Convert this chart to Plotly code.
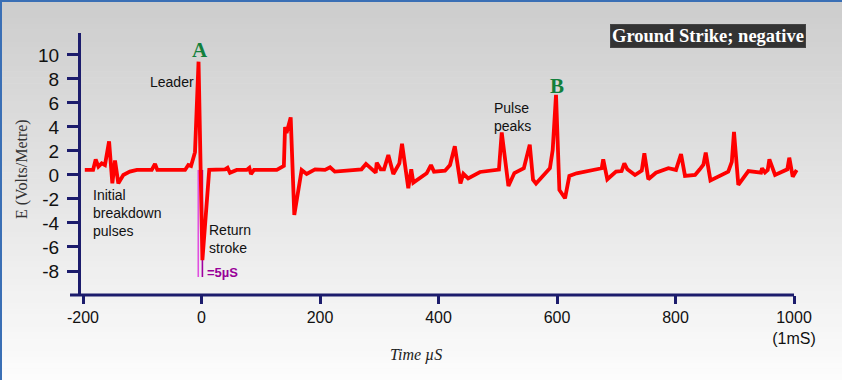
import plotly.graph_objects as go

# ---- data ----
time_us = [-197, -183, -178.6, -174, -168.5, -163, -156, -150.5, -146, -140.4, -132, -121, -109,
           -84, -78.5, -74.6, -27.8, -22.3, -17.7, -11, -5, 1.5, 13, 39.7, 44, 48, 59.4, 76.3,
           80.7, 83.5, 88.6, 127, 139, 141, 143.5, 150.5, 156.6, 169, 177.5, 191.6, 208.4,
           217, 225, 270, 277.6, 294, 295.7, 302.4, 308, 315.3, 323.7, 333.9, 338.4, 349, 354,
           357.5, 380, 387.3, 392.4, 411, 419.4, 427.5, 437, 442, 450, 470, 502, 506.7, 518,
           528, 544, 554, 559.5, 564.6, 588, 592.7, 598.3, 604, 613.5, 620.8, 633, 638.8,
           675.4, 678, 684.9, 699.6, 709, 713.6, 718.7, 731.6, 743, 747.4, 754.1, 767, 788,
           800.8, 809.3, 816, 833, 841, 847, 851, 859, 889, 895, 898.7, 906, 923, 944.3,
           946, 951, 955.6, 958.4, 968, 988.7, 992, 997.8, 1004.5]
field_vm = [0.42, 0.42, 1.3, 0.7, 0.97, 0.83, 2.8, -0.7, 1.2, -0.7, 0.0, 0.28, 0.42,
            0.42, 0.92, 0.42, 0.42, 0.83, 0.75, 1.9, 9.44, -7.1, 0.42, 0.47, 0.6, 0.19, 0.42, 0.42,
            0.6, 0.08, 0.42, 0.42, 0.75, 4.0, 3.5, 4.8, -3.33, 0.42, 0.08, 0.47, 0.42,
            0.64, 0.28, 0.47, 0.92, 0.19, 1.03, 0.47, 0.47, 1.67, 0.08, 0.97, 2.6, -1.1, 0.47,
            -0.64, 0.14, 0.83, 0.28, 0.36, 0.83, 2.4, -0.7, 0.1, -0.28, 0.25, 0.45, 3.55, -0.92,
            0.16, 0.56, 2.53, -0.4, -0.72, 0.56, 2.08, 6.67, -1.25, -1.94, -0.08, 0.14, 0.19,
            0.56, 1.3, -0.36, 0.28, 0.33, 0.97, 0.47, 0.0, 0.36, 1.8, -0.36, 0.19, 0.56,
            0.42, 1.75, -0.08, 0.0, 0.47, 0.85, 1.86, -0.45, 0.28, 1.1, 3.6, -0.83, 0.33, 0.19,
            0.56, 0.22, 0.42, 1.3, 0.0, 0.47, 1.44, -0.14, 0.42]

# 5 microsecond return-stroke markers
marker_t = [-5.5, 1.5]
marker_top = 0.42
marker_bottom = -8.5
marker_colors = ["#e050e0", "#a000a0"]

x_tickvals = [-200, 0, 200, 400, 600, 800, 1000]
x_ticktext = ["-200", "0", "200", "400", "600", "800", "1000<br>(1mS)"]
y_tickvals = [-8, -6, -4, -2, 0, 2, 4, 6, 8, 10]
y_ticktext = ["-8", "-6", "-4", "-2", "0", "2", "4", "6", "8", "10"]

XMIN, XMAX = -203.4, 1010.1
YMIN, YMAX = -10, 11.83
W, H = 842, 380
ML, MR, MT, MB = 81, 42, 33, 85
PW, PH = W - ML - MR, H - MT - MB
NAVY = "#1c1c6c"

fig = go.Figure()

for t, c in zip(marker_t, marker_colors):
    fig.add_trace(go.Scatter(x=[t, t], y=[marker_top, marker_bottom], mode="lines",
                             line=dict(color=c, width=1.6), hoverinfo="skip", showlegend=False))

fig.add_trace(go.Scatter(x=time_us, y=field_vm, mode="lines",
                         line=dict(color="#ff0000", width=3.8), showlegend=False))

shapes = []
# background gradient over whole figure (paper coords)
n = 64
top_c, bot_c = 0xcd, 0xfc
for i in range(n):
    py0 = H * i / n
    py1 = H * (i + 1) / n + 0.6
    g = round(top_c + (bot_c - top_c) * i / (n - 1))
    col = f"rgb({g},{g},{g})"
    shapes.append(dict(type="rect", xref="paper", yref="paper",
                       x0=-ML / PW, x1=(W - ML) / PW,
                       y0=(H - MB - py1) / PH, y1=(H - MB - py0) / PH,
                       line=dict(width=0), fillcolor=col, layer="below"))
# blue frame on left & top edge
shapes.append(dict(type="line", xref="paper", yref="paper",
                   x0=(-ML + 1) / PW, x1=(-ML + 1) / PW, y0=-MB / PH, y1=(H - MB) / PH,
                   line=dict(color="#3a6fb5", width=2)))
shapes.append(dict(type="line", xref="paper", yref="paper",
                   x0=-ML / PW, x1=(W - ML) / PW, y0=(H - MB - 1) / PH, y1=(H - MB - 1) / PH,
                   line=dict(color="#3a6fb5", width=2)))
# x axis line, extending a little left of the y axis up to 1000
shapes.append(dict(type="line", xref="paper", yref="paper",
                   x0=-11 / PW, x1=(1000 - XMIN) / (XMAX - XMIN), y0=0, y1=0,
                   line=dict(color=NAVY, width=3)))

ann = []
sans = "Liberation Sans, Arial, sans-serif"
serif = "Liberation Serif, Times New Roman, serif"


def A(**kw):
    kw.setdefault("showarrow", False)
    kw.setdefault("xanchor", "center")
    kw.setdefault("yanchor", "middle")
    ann.append(kw)


A(x=-3, y=10.38, text="<b>A</b>", font=dict(family=serif, size=21, color="#12803c"))
A(x=600, y=7.45, text="<b>B</b>", font=dict(family=serif, size=21, color="#12803c"))
A(x=-50, y=7.75, text="Leader", font=dict(family=sans, size=14, color="#111"))
A(x=-186.5, y=-3.17, text="Initial<br>breakdown<br>pulses", xanchor="left", align="left",
  font=dict(family=sans, size=14, color="#111"))
A(x=9.3, y=-5.3, text="Return<br>stroke", xanchor="left", align="left",
  font=dict(family=sans, size=14, color="#111"))
A(x=490, y=4.86, text="Pulse<br>peaks", xanchor="left", align="left",
  font=dict(family=sans, size=14, color="#111"))
A(x=5.5, y=-8.1, text="<b>=5µS</b>", xanchor="left",
  font=dict(family=sans, size=13, color="#990099"))
A(x=855, y=11.6, text="<b>Ground Strike; negative</b>", bgcolor="#333333", borderpad=1,
  bordercolor="#444444", borderwidth=1,
  font=dict(family=serif, size=18.5, color="white"))
A(xref="paper", yref="paper", x=(22 - ML) / PW, y=(H - MB - 169) / PH,
  text="E (Volts/Metre)", textangle=-90, font=dict(family=serif, size=16, color="#333"))
A(xref="paper", yref="paper", x=(416 - ML) / PW, y=(H - MB - 355) / PH,
  text="<i>Time µS</i>", font=dict(family=serif, size=16, color="#222"))

fig.update_layout(
    width=W, height=H,
    margin=dict(l=ML, r=MR, t=MT, b=MB, pad=0),
    paper_bgcolor="#f0f0f0", plot_bgcolor="rgba(0,0,0,0)",
    shapes=shapes, annotations=ann, showlegend=False,
    xaxis=dict(range=[XMIN, XMAX], tickvals=x_tickvals, ticktext=x_ticktext,
               showgrid=False, zeroline=False, showline=False,
               ticks="outside", ticklen=8, tickwidth=3, tickcolor=NAVY,
               tickfont=dict(family=sans, size=16, color="#111")),
    yaxis=dict(range=[YMIN, YMAX], tickvals=y_tickvals, ticktext=y_ticktext,
               showgrid=False, zeroline=False, showline=True, linecolor=NAVY, linewidth=3,
               ticks="outside", ticklen=11, tickwidth=3, tickcolor=NAVY, ticklabelstandoff=4,
               tickfont=dict(family=sans, size=19, color="#111")),
)

fig.write_html("out.html", config={"displayModeBar": False},
               post_script="document.body.style.margin='0';document.body.style.padding='0';")
